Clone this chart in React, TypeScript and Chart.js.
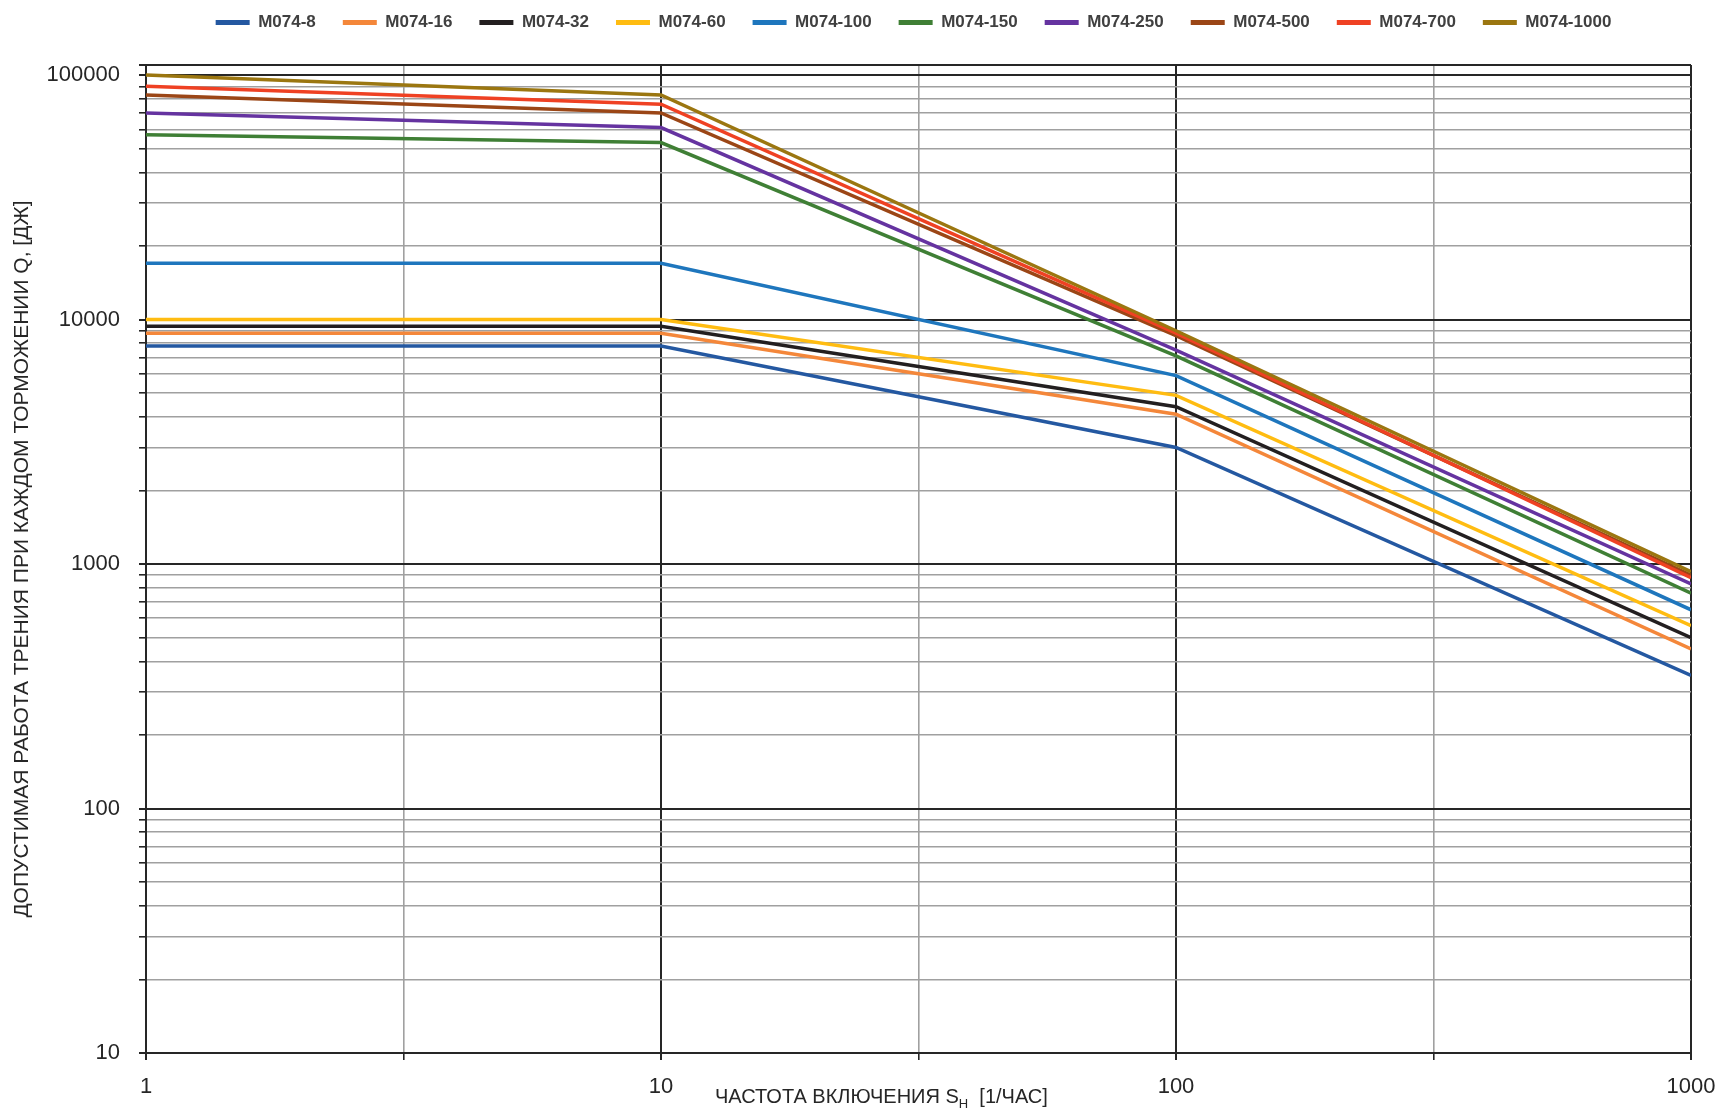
import React, { useEffect, useRef } from 'react';
import { Chart, registerables } from 'chart.js';

Chart.register(...registerables);

// ---- data ----
const frequencies = [1, 10, 100, 1000];
const seriesNames = ['M074-8', 'M074-16', 'M074-32', 'M074-60', 'M074-100', 'M074-150', 'M074-250', 'M074-500', 'M074-700', 'M074-1000'];
const seriesColors = ['#2458A1', '#F4873A', '#231F20', '#FFBC11', '#1E76BD', '#3F7F35', '#6533A0', '#9B4616', '#EF4123', '#9B7610'];
const m074_8 = [7800, 7800, 3000, 350];
const m074_16 = [8800, 8800, 4100, 450];
const m074_32 = [9400, 9400, 4400, 500];
const m074_60 = [10000, 10000, 4900, 560];
const m074_100 = [17000, 17000, 5900, 650];
const m074_150 = [57000, 53000, 7100, 760];
const m074_250 = [70000, 61000, 7500, 830];
const m074_500 = [83000, 70000, 8600, 900];
const m074_700 = [90000, 76000, 8800, 880];
const m074_1000 = [100000, 83000, 9000, 930];
const seriesValues = [m074_8, m074_16, m074_32, m074_60, m074_100, m074_150, m074_250, m074_500, m074_700, m074_1000];

const yDecades = [10, 100, 1000, 10000];
const yMultipliers = [1, 2, 3, 4, 5, 6, 7, 8, 9];
const yTopDecade = 100000;
const yAxisMin = 10;
const yAxisMax = 110000;
const xGridValues = [1, 3.1623, 10, 31.623, 100, 316.23, 1000];
const xAxisMin = 1;
const xAxisMax = 1000;

const yAxisTitle = 'ДОПУСТИМАЯ РАБОТА ТРЕНИЯ ПРИ КАЖДОМ ТОРМОЖЕНИИ Q, [ДЖ]';
const xTitleMain = 'ЧАСТОТА ВКЛЮЧЕНИЯ S';
const xTitleSub = 'Н';
const xTitleTail = '  [1/ЧАС]';

// ---- styling helpers ----
const DARK = '#262626';
const GRAY = '#a0a0a0';
const SANS = '"Liberation Sans", Arial, sans-serif';

const isDecade = (v: number) => Math.abs(Math.log10(v) - Math.round(Math.log10(v))) < 1e-6;
const isMajor = (v: number) => isDecade(v) || v >= yAxisMax;

const legendShift = {
  id: 'legendShift',
  afterLayout(chart: any) {
    const lg = chart.legend;
    if (!lg) return;
    lg.left += 52;
    lg.right += 52;
    lg.top -= 24;
    lg.bottom -= 24;
  },
};

const xTitlePlugin = {
  id: 'xTitle',
  afterDraw(chart: any) {
    const { ctx, chartArea } = chart;
    ctx.save();
    ctx.fillStyle = DARK;
    ctx.textAlign = 'left';
    ctx.textBaseline = 'alphabetic';
    let x = chartArea.left + 569;
    const y = chartArea.bottom + 50;
    ctx.font = `20px ${SANS}`;
    ctx.fillText(xTitleMain, x, y);
    x += ctx.measureText(xTitleMain).width;
    ctx.font = `13px ${SANS}`;
    ctx.fillText(xTitleSub, x, y + 5);
    x += ctx.measureText(xTitleSub).width;
    ctx.font = `20px ${SANS}`;
    ctx.fillText(xTitleTail, x, y);
    ctx.restore();
  },
};

export default function App() {
  const ref = useRef<HTMLCanvasElement>(null);

  useEffect(() => {
    if (!ref.current) return;
    Chart.defaults.font.family = SANS;

    const datasets = seriesNames.map((name, i) => ({
      label: name,
      data: frequencies.map((f, j) => ({ x: f, y: seriesValues[i][j] })),
      borderColor: seriesColors[i],
      backgroundColor: seriesColors[i],
      borderWidth: 3.5,
      pointRadius: 0,
      tension: 0,
      fill: false,
      order: seriesNames.length - i,
    }));

    const chart = new Chart(ref.current, {
      type: 'line',
      data: { datasets },
      plugins: [legendShift, xTitlePlugin],
      options: {
        animation: false,
        responsive: true,
        maintainAspectRatio: false,
        events: [],
        layout: { padding: { top: 11, right: 0, left: 0, bottom: 0 } },
        plugins: {
          tooltip: { enabled: false },
          legend: {
            position: 'top',
            labels: {
              boxWidth: 34,
              boxHeight: 5,
              padding: 27,
              color: '#404040',
              font: { family: SANS, size: 17, weight: 'bold' },
              generateLabels: (c: any) =>
                (Chart.defaults.plugins.legend.labels as any)
                  .generateLabels(c)
                  .map((l: any) => ({ ...l, lineWidth: 0 }))
                  .sort((a: any, b: any) => a.datasetIndex - b.datasetIndex),
            },
          },
        },
        scales: {
          x: {
            type: 'logarithmic',
            min: xAxisMin,
            max: xAxisMax,
            afterBuildTicks: (s: any) => {
              s.ticks = xGridValues.map((v) => ({ value: v }));
            },
            afterFit: (s: any) => {
              s.height = 57;
              s.paddingRight = 32;
            },
            ticks: {
              autoSkip: false,
              maxRotation: 0,
              minRotation: 0,
              padding: 14,
              color: DARK,
              font: { size: 22 },
              callback: (v: any) => (isDecade(Number(v)) ? String(Math.round(Number(v))) : ''),
            },
            grid: {
              color: (c: any) => (isMajor(c.tick.value) ? DARK : GRAY),
              lineWidth: (c: any) => (isMajor(c.tick.value) ? 2 : 1.6),
              tickLength: 7,
              tickColor: DARK,
            },
            border: { color: DARK, width: 2 },
          },
          y: {
            type: 'logarithmic',
            min: yAxisMin,
            max: yAxisMax,
            afterBuildTicks: (s: any) => {
              const vals: number[] = [];
              yDecades.forEach((d) => yMultipliers.forEach((m) => vals.push(d * m)));
              vals.push(yTopDecade, yAxisMax);
              s.ticks = vals.map((v) => ({ value: v }));
            },
            afterFit: (s: any) => {
              s.width = 146;
            },
            ticks: {
              autoSkip: false,
              padding: 19,
              color: DARK,
              font: { size: 22 },
              callback: (v: any) => {
                const n = Number(v);
                return isDecade(n) && n <= yTopDecade ? String(Math.round(n)) : '';
              },
            },
            grid: {
              color: (c: any) => (isMajor(c.tick.value) ? DARK : GRAY),
              lineWidth: (c: any) => (isMajor(c.tick.value) ? 2 : 1.6),
              tickLength: 7,
              tickColor: DARK,
            },
            border: { color: DARK, width: 2 },
            title: {
              display: true,
              text: yAxisTitle,
              color: DARK,
              font: { family: SANS, size: 21 },
              padding: { top: 10, bottom: 0 },
            },
          },
        },
      } as any,
    });
    return () => chart.destroy();
  }, []);

  return (
    <div style={{ position: 'fixed', left: 0, top: 0, width: 1723, height: 1110, background: '#fff' }}>
      <canvas ref={ref} />
    </div>
  );
}
